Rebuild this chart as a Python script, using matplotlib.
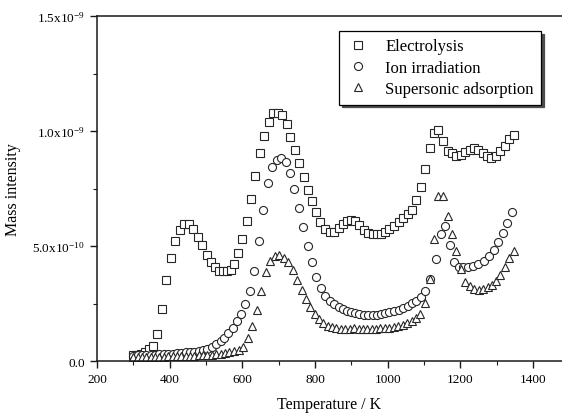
import matplotlib
matplotlib.use("Agg")
import matplotlib.pyplot as plt
from matplotlib.ticker import FixedLocator, MultipleLocator

plt.rcParams["font.family"] = ["Liberation Serif", "DejaVu Serif"]
plt.rcParams["mathtext.fontset"] = "custom"
plt.rcParams["mathtext.rm"] = "Liberation Serif"
plt.rcParams["mathtext.it"] = "Liberation Serif:italic"

# ── Data (intensity in units of 1e-10) ──────────────────────────────────────
elec_T = [300, 311, 322, 333, 344, 355, 366, 380, 391, 404,
          415, 428, 439, 453, 465, 478, 490, 503, 514, 525,
          536, 547, 558, 568, 578, 588, 600, 612, 624, 636,
          649, 660, 673, 684, 697, 709, 722, 732, 744, 757,
          769, 781, 793, 804, 815, 828, 841, 853, 865, 876,
          887, 899, 911, 922, 934, 947, 959, 971, 982, 994,
          1005, 1018, 1030, 1043, 1055, 1067, 1079, 1092, 1104, 1116,
          1128, 1140, 1153, 1165, 1177, 1189, 1201, 1214, 1226, 1238,
          1250, 1262, 1274, 1285, 1298, 1310, 1322, 1334, 1347]
elec_I = [0.25, 0.28, 0.32, 0.40, 0.52, 0.66, 1.16, 2.25, 3.52, 4.49,
          5.23, 5.70, 5.96, 5.96, 5.74, 5.40, 5.04, 4.61, 4.29, 4.07,
          3.93, 3.90, 3.90, 3.97, 4.20, 4.70, 5.30, 6.07, 7.03, 8.04,
          9.04, 9.77, 10.38, 10.80, 10.80, 10.70, 10.30, 9.73, 9.19, 8.60,
          8.00, 7.43, 6.94, 6.50, 6.06, 5.74, 5.60, 5.62, 5.78, 5.96,
          6.10, 6.14, 6.10, 5.93, 5.71, 5.57, 5.52, 5.52, 5.53, 5.62,
          5.74, 5.88, 6.06, 6.23, 6.39, 6.58, 7.00, 7.55, 8.35, 9.26,
          9.90, 10.04, 9.58, 9.14, 9.04, 8.93, 8.97, 9.07, 9.19, 9.25,
          9.19, 9.04, 8.90, 8.83, 8.90, 9.14, 9.36, 9.65, 9.84]

ion_T = [300, 312, 324, 336, 348, 360, 372, 384, 396, 408,
         420, 432, 444, 456, 468, 480, 492, 504, 516, 528,
         540, 550, 561, 573, 584, 596, 608, 621, 633, 645,
         657, 670, 682, 695, 706, 719, 731, 743, 755, 768,
         780, 792, 804, 816, 828, 841, 853, 865, 876, 887,
         899, 911, 922, 934, 947, 959, 971, 982, 994, 1005,
         1018, 1030, 1043, 1055, 1067, 1079, 1092, 1104, 1117, 1133,
         1146, 1158, 1171, 1183, 1196, 1208, 1222, 1236, 1250, 1265,
         1280, 1293, 1305, 1317, 1328, 1341]
ion_I = [0.23, 0.24, 0.25, 0.26, 0.27, 0.28, 0.29, 0.30, 0.31, 0.32,
         0.33, 0.35, 0.37, 0.39, 0.41, 0.44, 0.48, 0.53, 0.61, 0.72,
         0.86, 1.02, 1.20, 1.45, 1.72, 2.04, 2.48, 3.06, 3.93, 5.20,
         6.58, 7.74, 8.42, 8.75, 8.81, 8.64, 8.16, 7.48, 6.65, 5.81,
         5.01, 4.29, 3.64, 3.16, 2.84, 2.62, 2.46, 2.33, 2.26, 2.19,
         2.12, 2.07, 2.04, 2.00, 2.00, 2.00, 2.00, 2.04, 2.07, 2.12,
         2.17, 2.23, 2.32, 2.41, 2.52, 2.62, 2.77, 3.06, 3.57, 4.45,
         5.52, 5.88, 5.04, 4.32, 4.10, 4.07, 4.10, 4.14, 4.22, 4.36,
         4.58, 4.84, 5.16, 5.55, 5.99, 6.50]

sup_T = [300, 312, 324, 336, 348, 360, 372, 384, 396, 408,
         420, 432, 444, 456, 468, 480, 492, 504, 516, 528,
         540, 552, 564, 577, 590, 603, 616, 627, 640, 652,
         665, 677, 690, 702, 715, 727, 739, 751, 763, 775,
         787, 800, 811, 823, 835, 847, 859, 871, 883, 896,
         908, 920, 932, 944, 956, 968, 980, 992, 1004, 1017,
         1029, 1041, 1054, 1066, 1078, 1090, 1103, 1117, 1128, 1139,
         1152, 1165, 1177, 1189, 1202, 1214, 1227, 1239, 1251, 1263,
         1275, 1287, 1298, 1310, 1322, 1335, 1347]
sup_I = [0.16, 0.16, 0.17, 0.17, 0.18, 0.18, 0.19, 0.19, 0.20, 0.20,
         0.21, 0.21, 0.22, 0.22, 0.23, 0.24, 0.25, 0.26, 0.27, 0.29,
         0.31, 0.34, 0.37, 0.42, 0.50, 0.60, 0.99, 1.54, 2.22, 3.03,
         3.86, 4.33, 4.58, 4.61, 4.48, 4.29, 3.97, 3.53, 3.10, 2.70,
         2.33, 2.04, 1.83, 1.65, 1.54, 1.47, 1.42, 1.39, 1.39, 1.39,
         1.42, 1.39, 1.39, 1.39, 1.39, 1.39, 1.42, 1.42, 1.45, 1.48,
         1.51, 1.57, 1.65, 1.74, 1.86, 2.03, 2.52, 3.57, 5.30, 7.18,
         7.18, 6.29, 5.52, 4.80, 4.00, 3.45, 3.25, 3.13, 3.10, 3.13,
         3.20, 3.32, 3.49, 3.75, 4.07, 4.48, 4.80]

series = [
    ("Electrolysis", elec_T, elec_I, "s", 5.8),
    ("Ion irradiation", ion_T, ion_I, "o", 5.8),
    ("Supersonic adsorption", sup_T, sup_I, "^", 6.2),
]

y_ticks = [0.0, 5.0e-10, 1.0e-9, 1.5e-9]
y_tick_labels = ["0.0", r"5.0x10$^{-10}$", r"1.0x10$^{-9}$", r"1.5x10$^{-9}$"]
x_ticks = [200, 400, 600, 800, 1000, 1200, 1400]

fig = plt.figure(figsize=(5.62, 4.14), dpi=100)
ax = fig.add_axes([0.1726, 0.1256, 0.8274, 0.8333])

for label, T, I, mk, ms in series:
    ax.plot(T, [v * 1e-10 for v in I], linestyle="none", marker=mk, ms=ms,
            mfc="white", mec="0.15", mew=0.8, label=label)

ax.set_xlim(200, 1480)
ax.set_ylim(0, 1.5e-9)
ax.xaxis.set_major_locator(FixedLocator(x_ticks))
ax.xaxis.set_minor_locator(MultipleLocator(100))
ax.set_yticks(y_ticks)
ax.set_yticklabels(y_tick_labels)
ax.yaxis.set_minor_locator(MultipleLocator(2.5e-10))
ax.tick_params(which="major", direction="out", length=5, width=1, labelsize=9.5, color="0.1")
ax.tick_params(which="minor", direction="out", length=3, width=0.8, color="0.1")
ax.spines["right"].set_visible(False)
for s in ("left", "bottom", "top"):
    ax.spines[s].set_linewidth(1.1)
    ax.spines[s].set_color("0.1")

ax.set_xlabel("Temperature / K", fontsize=11.5, labelpad=8)
ax.set_ylabel("Mass intensity", fontsize=11.5, labelpad=8)

leg = ax.legend(loc="upper right", bbox_to_anchor=(0.955, 0.957), borderaxespad=0,
                fancybox=False, edgecolor="black", framealpha=1, fontsize=12,
                shadow={"color": "0.3", "alpha": 1}, handletextpad=0.9,
                handlelength=1.4, labelspacing=0.32, borderpad=0.45)
leg.get_frame().set_linewidth(0.9)

fig.savefig("out.png", dpi=100)
